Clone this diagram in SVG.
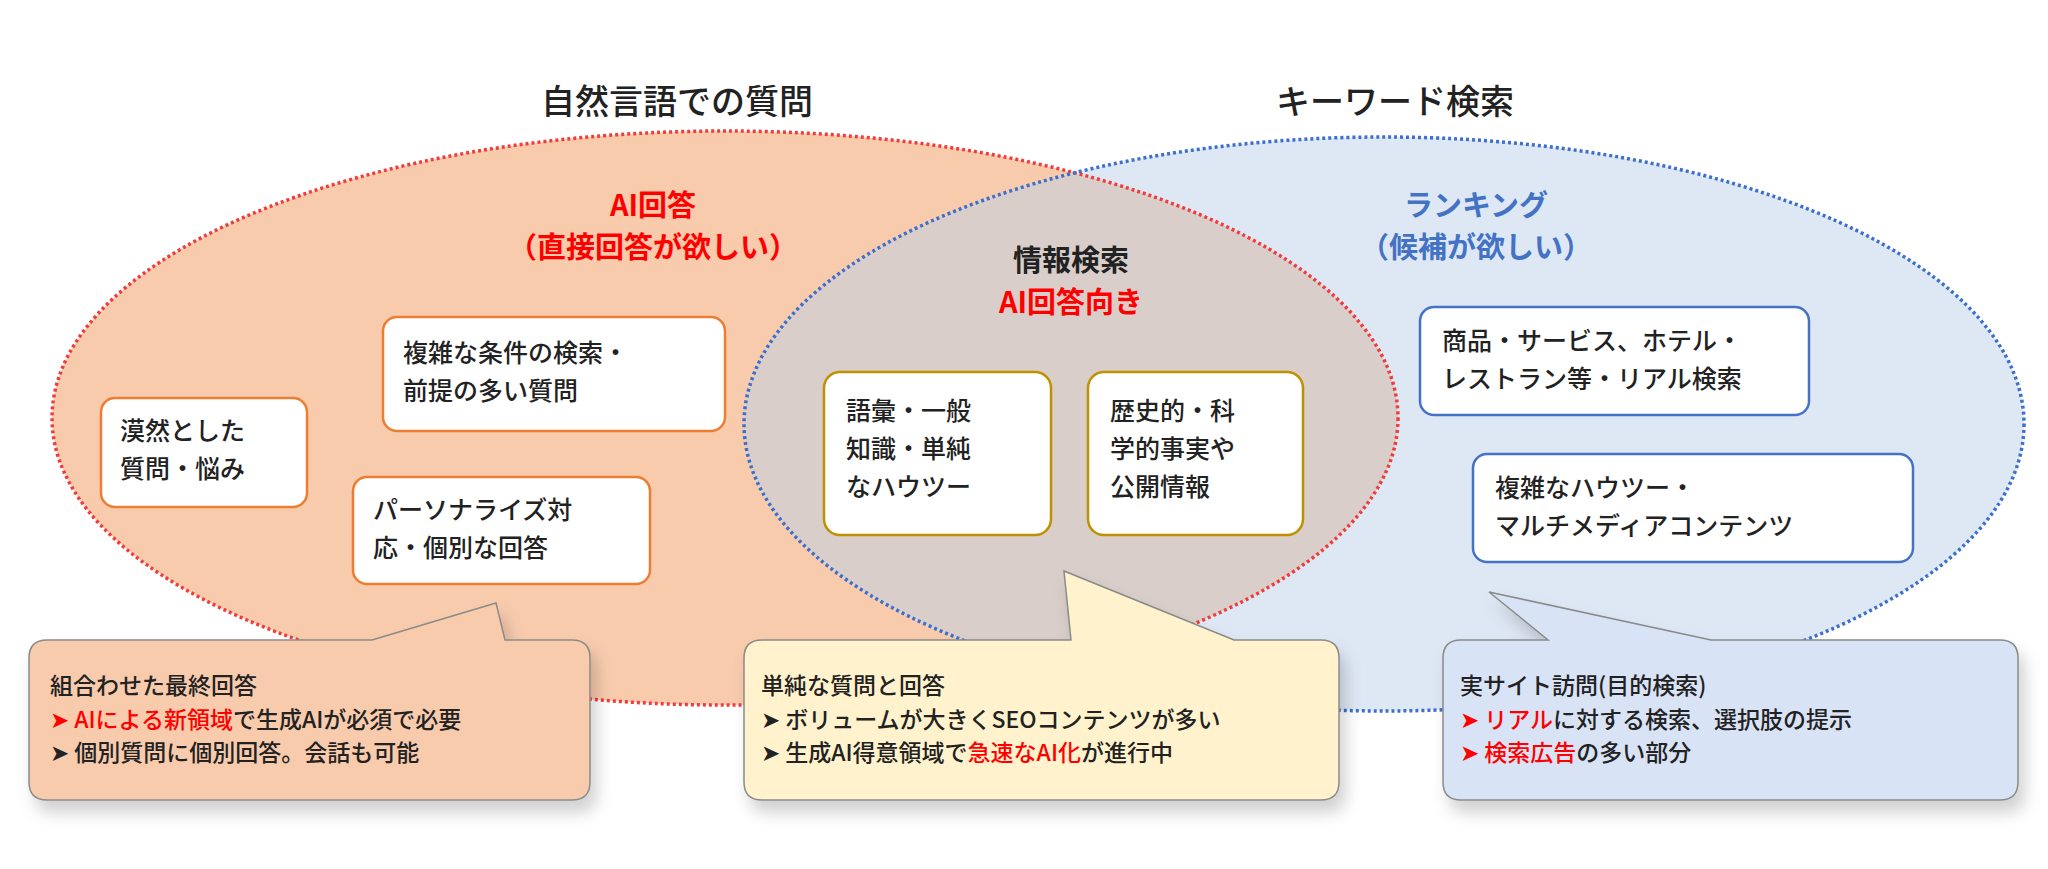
<svg xmlns="http://www.w3.org/2000/svg" width="2048" height="869" viewBox="0 0 2048 869">
<style>
text{font-family:"Noto Sans CJK JP","Noto Sans",sans-serif;fill:#222;font-weight:500}
.t{font-size:34px;text-anchor:middle}
.h{font-size:29px;font-weight:bold;text-anchor:middle}
.b{font-size:25px}
.c{font-size:23px}
.r{fill:#ff0000}
.bl{fill:#4472c4}
.bo{fill:#fff;stroke-width:2.5}
.call{stroke:#8a8a8a;stroke-width:1.5;filter:url(#sh)}
</style>
<defs>
<filter id="sh" x="-10%" y="-10%" width="130%" height="150%"><feDropShadow dx="6" dy="12" stdDeviation="8" flood-color="#000" flood-opacity="0.18"/></filter>
<clipPath id="cl"><ellipse cx="725" cy="418" rx="673" ry="287"/></clipPath>
</defs>
<g id="venn">
<ellipse cx="725" cy="418" rx="673" ry="287" fill="#f8cbad"/>
<ellipse cx="1384" cy="424" rx="640" ry="287" fill="#dee8f4"/>
<ellipse cx="1384" cy="424" rx="640" ry="287" fill="#d9cec9" clip-path="url(#cl)"/>
<ellipse cx="725" cy="418" rx="673" ry="287" fill="none" stroke="#f23c3c" stroke-width="3.5" stroke-dasharray="3 3"/>
<ellipse cx="1384" cy="424" rx="640" ry="287" fill="none" stroke="#3d6fcc" stroke-width="3.5" stroke-dasharray="3 3"/>
</g>
<g id="titles">
<text class="t" x="677" y="114">自然言語での質問</text>
<text class="t" x="1395" y="114">キーワード検索</text>
<text class="h r" x="653" y="216">AI回答</text>
<text class="h r" x="653" y="258">（直接回答が欲しい）</text>
<text class="h" x="1071" y="271">情報検索</text>
<text class="h r" x="1071" y="313">AI回答向き</text>
<text class="h bl" x="1476" y="216">ランキング</text>
<text class="h bl" x="1476" y="258">（候補が欲しい）</text>
</g>
<g id="n1"><rect class="bo" x="101" y="398" width="206" height="109" rx="14" stroke="#ed7d31"/><text class="b" x="120" y="440">漠然とした</text><text class="b" x="120" y="478">質問・悩み</text></g>
<g id="n2"><rect class="bo" x="383" y="317" width="342" height="114" rx="14" stroke="#ed7d31"/><text class="b" x="403" y="362">複雑な条件の検索・</text><text class="b" x="403" y="400">前提の多い質問</text></g>
<g id="n3"><rect class="bo" x="353" y="477" width="297" height="107" rx="14" stroke="#ed7d31"/><text class="b" x="373" y="519">パーソナライズ対</text><text class="b" x="373" y="557">応・個別な回答</text></g>
<g id="n4"><rect class="bo" x="824" y="372" width="227" height="163" rx="16" stroke="#bf9000"/><text class="b" x="846" y="420">語彙・一般</text><text class="b" x="846" y="458">知識・単純</text><text class="b" x="846" y="496">なハウツー</text></g>
<g id="n5"><rect class="bo" x="1088" y="372" width="215" height="163" rx="16" stroke="#bf9000"/><text class="b" x="1110" y="420">歴史的・科</text><text class="b" x="1110" y="458">学的事実や</text><text class="b" x="1110" y="496">公開情報</text></g>
<g id="n6"><rect class="bo" x="1420" y="307" width="389" height="108" rx="14" stroke="#4472c4"/><text class="b" x="1442" y="350">商品・サービス、ホテル・</text><text class="b" x="1442" y="388">レストラン等・リアル検索</text></g>
<g id="n7"><rect class="bo" x="1473" y="454" width="440" height="108" rx="14" stroke="#4472c4"/><text class="b" x="1495" y="497">複雑なハウツー・</text><text class="b" x="1495" y="535">マルチメディアコンテンツ</text></g>
<g id="c1">
<path class="call" fill="#f8cbad" d="M47 640 H372 L496 603 L505 640 H572 Q590 640 590 658 V782 Q590 800 572 800 H47 Q29 800 29 782 V658 Q29 640 47 640 Z"/>
<text class="c" x="50" y="694">組合わせた最終回答</text>
<text class="c" x="50" y="728"><tspan class="r">➤ AIによる新領域</tspan>で生成AIが必須で必要</text>
<text class="c" x="50" y="761">➤ 個別質問に個別回答。会話も可能</text>
</g>
<g id="c2">
<path class="call" fill="#fff2cc" d="M762 640 H1071 L1064 571 L1234 640 H1321 Q1339 640 1339 658 V782 Q1339 800 1321 800 H762 Q744 800 744 782 V658 Q744 640 762 640 Z"/>
<text class="c" x="761" y="694">単純な質問と回答</text>
<text class="c" x="761" y="728">➤ ボリュームが大きくSEOコンテンツが多い</text>
<text class="c" x="761" y="761">➤ 生成AI得意領域で<tspan class="r">急速なAI化</tspan>が進行中</text>
</g>
<g id="c3">
<path class="call" fill="#d9e3f6" d="M1461 640 H1548 L1489 592 L1711 640 H2000 Q2018 640 2018 658 V782 Q2018 800 2000 800 H1461 Q1443 800 1443 782 V658 Q1443 640 1461 640 Z"/>
<text class="c" x="1460" y="694">実サイト訪問(目的検索)</text>
<text class="c" x="1460" y="728"><tspan class="r">➤ リアル</tspan>に対する検索、選択肢の提示</text>
<text class="c" x="1460" y="761"><tspan class="r">➤ 検索広告</tspan>の多い部分</text>
</g>
</svg>
